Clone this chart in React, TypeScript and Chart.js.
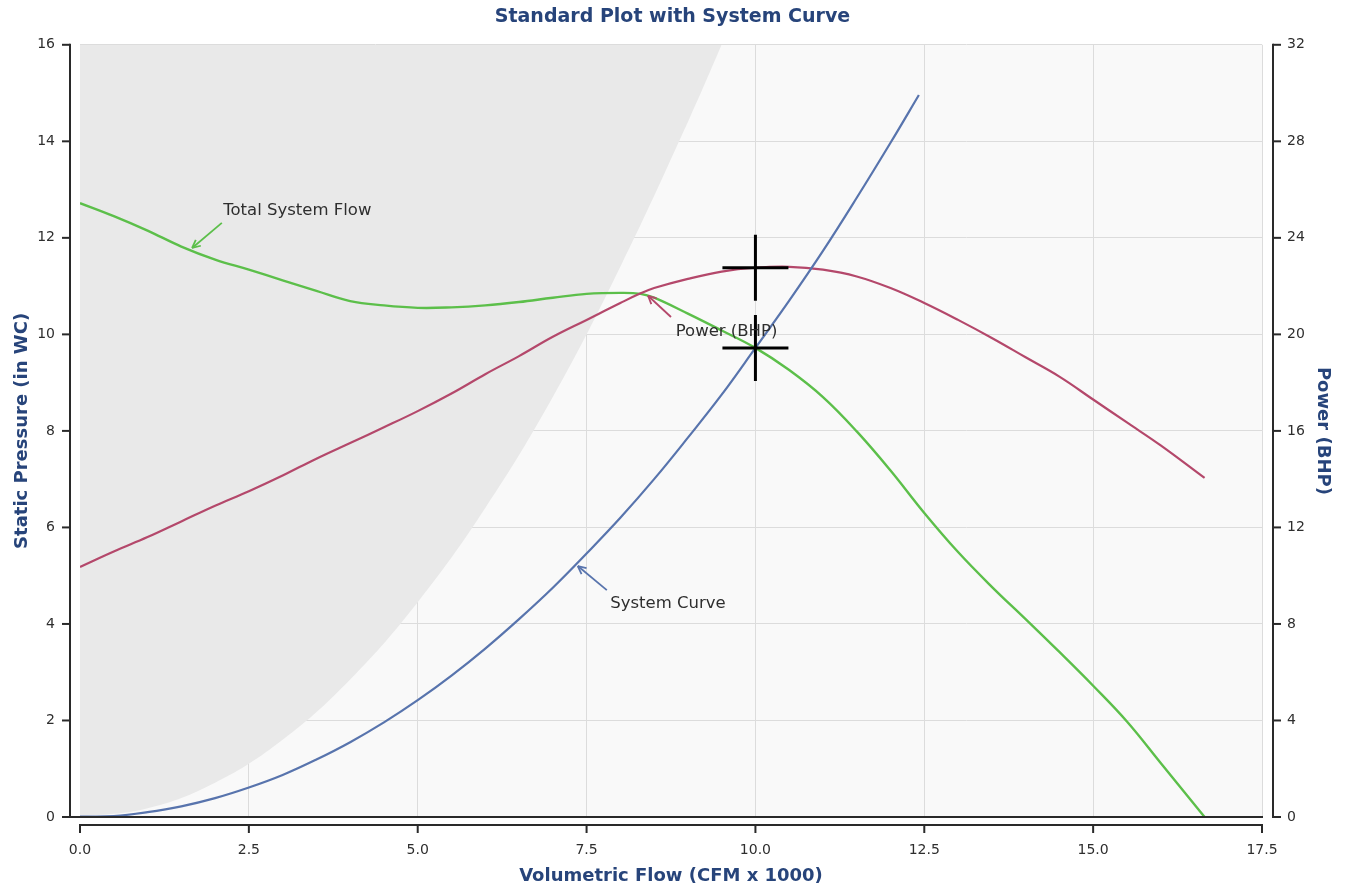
import React, { useEffect, useRef } from "react";
import { Chart, registerables } from "chart.js";

Chart.register(...registerables);

// ---------- data ----------
const flowQ = [0, 0.5, 1, 1.5, 2, 2.5, 3, 3.5, 4, 4.5, 5, 5.5, 6, 6.5, 7, 7.5, 8, 8.3, 8.5, 9, 9.5, 10, 10.5, 11, 11.5, 12, 12.5, 13, 13.5, 14, 14.5, 15, 15.5, 16, 16.65];
const totalSystemFlow = [12.72, 12.45, 12.15, 11.82, 11.55, 11.34, 11.12, 10.9, 10.69, 10.6, 10.55, 10.56, 10.6, 10.67, 10.76, 10.84, 10.86, 10.84, 10.76, 10.43, 10.08, 9.72, 9.26, 8.7, 7.99, 7.18, 6.3, 5.49, 4.77, 4.1, 3.42, 2.72, 1.98, 1.12, 0];
const powerBHP = [10.36, 11.0, 11.6, 12.25, 12.9, 13.5, 14.15, 14.85, 15.5, 16.15, 16.82, 17.55, 18.35, 19.1, 19.9, 20.6, 21.3, 21.7, 21.92, 22.3, 22.6, 22.76, 22.8, 22.68, 22.4, 21.92, 21.3, 20.6, 19.85, 19.05, 18.25, 17.3, 16.35, 15.4, 14.05];

const systemQ = [0, 0.5, 1, 1.5, 2, 2.5, 3, 3.5, 4, 4.5, 5, 5.5, 6, 6.5, 7, 7.5, 8, 8.5, 9, 9.5, 10, 10.5, 11, 11.5, 12, 12.42];
const systemCurve = [0.01, 0.02, 0.1, 0.22, 0.39, 0.61, 0.87, 1.19, 1.55, 1.96, 2.42, 2.93, 3.49, 4.1, 4.75, 5.46, 6.2, 7.0, 7.86, 8.75, 9.72, 10.7, 11.73, 12.83, 13.97, 14.96];

const surgeQ = [0, 1, 2, 3, 4, 5, 6, 7, 8, 9, 9.5];
const surgeP = [0, 0.18, 0.71, 1.6, 2.85, 4.45, 6.4, 8.7, 11.4, 14.4, 16];

const operatingQ = [10, 10];
const operatingP = [11.38, 9.72];

const xRange = [0, 17.5];
const yRange = [0, 16];
const y1Range = [0, 32];
const xStep = 2.5;
const yStep = 2;
const y1Step = 4;

const titleText = "Standard Plot with System Curve";
const xTitle = "Volumetric Flow (CFM x 1000)";
const yTitle = "Static Pressure (in WC)";
const y1Title = "Power (BHP)";

// ---------- styles ----------
const GREEN = "#5cbf4a";
const RED = "#b4486b";
const BLUE = "#5874ad";
const TITLE_BLUE = "#27447a";
const AXIS = "#2a2a2a";
const TEXT = "#2e2e2e";
const GRID = "#dcdcdc";
const PLOT_BG = "#f9f9f9";
const SURGE_BG = "#e9e9e9";
const FONT = "DejaVu Sans";

// annotation labels with arrows, in data units of the left axis
const annotations = [
  { text: "Total System Flow", tx: 2.12, ty: 12.56, ax0: 2.1, ay0: 12.31, ax1: 1.66, ay1: 11.79, color: GREEN },
  { text: "Power (BHP)", tx: 8.82, ty: 10.05, ax0: 8.75, ay0: 10.36, ax1: 8.41, ay1: 10.8, color: RED },
  { text: "System Curve", tx: 7.85, ty: 4.41, ax0: 7.8, ay0: 4.7, ax1: 7.37, ay1: 5.2, color: BLUE },
];

const zip = (xs: number[], ys: number[]) => xs.map((x, i) => ({ x, y: ys[i] }));

const decorPlugin = {
  id: "decor",
  beforeDraw(chart: any) {
    const { ctx, chartArea: a } = chart;
    ctx.save();
    ctx.fillStyle = PLOT_BG;
    ctx.fillRect(a.left, a.top, a.right - a.left, a.bottom - a.top);
    ctx.restore();
  },
  afterDatasetsDraw(chart: any) {
    const { ctx, chartArea: a, scales } = chart;
    const sx = scales.x;
    const sy = scales.y;
    const sy1 = scales.y1;
    const line = (x0: number, y0: number, x1: number, y1: number) => {
      ctx.beginPath();
      ctx.moveTo(x0, y0);
      ctx.lineTo(x1, y1);
      ctx.stroke();
    };
    ctx.save();
    ctx.strokeStyle = AXIS;
    ctx.lineWidth = 2;
    ctx.lineCap = "butt";
    // left axis
    const lx = a.left - 10;
    line(lx, a.top - 1, lx, a.bottom + 1);
    sy.ticks.forEach((t: any) => {
      const py = sy.getPixelForValue(t.value);
      line(lx - 8, py, lx, py);
    });
    // right axis
    const rx = a.right + 11;
    line(rx, a.top - 1, rx, a.bottom + 1);
    sy1.ticks.forEach((t: any) => {
      const py = sy1.getPixelForValue(t.value);
      line(rx, py, rx + 8, py);
    });
    // bottom border of plot
    line(lx, a.bottom, a.right + 1, a.bottom);
    // x axis
    const by = a.bottom + 8;
    line(a.left - 1, by, a.right + 1, by);
    sx.ticks.forEach((t: any) => {
      const px = sx.getPixelForValue(t.value);
      line(px, by, px, by + 8);
    });

    // annotations
    ctx.font = `16.5px "${FONT}"`;
    ctx.textBaseline = "middle";
    ctx.textAlign = "left";
    annotations.forEach((an) => {
      const x0 = sx.getPixelForValue(an.ax0);
      const y0 = sy.getPixelForValue(an.ay0);
      const x1 = sx.getPixelForValue(an.ax1);
      const y1 = sy.getPixelForValue(an.ay1);
      ctx.strokeStyle = an.color;
      ctx.lineWidth = 1.8;
      line(x0, y0, x1, y1);
      const ang = Math.atan2(y1 - y0, x1 - x0);
      const hl = 9;
      const spread = 0.45;
      line(x1, y1, x1 - hl * Math.cos(ang - spread), y1 - hl * Math.sin(ang - spread));
      line(x1, y1, x1 - hl * Math.cos(ang + spread), y1 - hl * Math.sin(ang + spread));
      ctx.fillStyle = TEXT;
      ctx.fillText(an.text, sx.getPixelForValue(an.tx), sy.getPixelForValue(an.ty));
    });
    ctx.restore();
  },
};

export default function App() {
  const canvasRef = useRef<HTMLCanvasElement | null>(null);

  useEffect(() => {
    if (!canvasRef.current) return;
    Chart.defaults.font.family = FONT;
    const tickFont = { family: FONT, size: 14 };
    const axisTitleFont = { family: FONT, size: 18, weight: "bold" as const };

    const chart = new Chart(canvasRef.current, {
      type: "line",
      data: {
        datasets: [
          {
            label: "Operating point",
            data: zip(operatingQ, operatingP),
            yAxisID: "y",
            showLine: false,
            pointStyle: "cross",
            pointRadius: 33,
            pointBorderWidth: 3,
            pointBorderColor: "#000000",
            borderColor: "#000000",
          } as any,
          {
            label: "System Curve",
            data: zip(systemQ, systemCurve),
            yAxisID: "y",
            borderColor: BLUE,
            borderWidth: 2.2,
            pointRadius: 0,
            tension: 0.4,
            fill: false,
          },
          {
            label: "Power (BHP)",
            data: zip(flowQ, powerBHP),
            yAxisID: "y1",
            borderColor: RED,
            borderWidth: 2.2,
            pointRadius: 0,
            tension: 0.4,
            fill: false,
          },
          {
            label: "Total System Flow",
            data: zip(flowQ, totalSystemFlow),
            yAxisID: "y",
            borderColor: GREEN,
            borderWidth: 2.4,
            pointRadius: 0,
            tension: 0.4,
            fill: false,
          },
          {
            label: "Surge region",
            data: zip(surgeQ, surgeP),
            yAxisID: "y",
            borderColor: SURGE_BG,
            borderWidth: 0,
            backgroundColor: SURGE_BG,
            pointRadius: 0,
            tension: 0.4,
            fill: "end",
          },
        ],
      },
      options: {
        animation: false,
        responsive: true,
        maintainAspectRatio: false,
        layout: { padding: 0 },
        plugins: {
          legend: { display: false },
          tooltip: { enabled: false },
          title: {
            display: true,
            text: titleText,
            color: TITLE_BLUE,
            font: { family: FONT, size: 19, weight: "bold" },
            padding: { top: 6, bottom: 16 },
          },
        },
        scales: {
          x: {
            type: "linear",
            min: xRange[0],
            max: xRange[1],
            ticks: {
              stepSize: xStep,
              autoSkip: false,
              maxRotation: 0,
              padding: 25,
              color: TEXT,
              font: tickFont,
              callback: (v: any) => Number(v).toFixed(1),
            },
            grid: { color: GRID, drawTicks: false, lineWidth: 1 },
            border: { display: false },
            title: {
              display: true,
              text: xTitle,
              color: TITLE_BLUE,
              font: axisTitleFont,
              padding: { top: 0, bottom: 3 },
            },
            afterFit: (s: any) => {
              s.height = 73;
            },
          },
          y: {
            type: "linear",
            position: "left",
            min: yRange[0],
            max: yRange[1],
            ticks: { stepSize: yStep, padding: 25, color: TEXT, font: tickFont },
            grid: { color: GRID, drawTicks: false, lineWidth: 1 },
            border: { display: false },
            title: {
              display: true,
              text: yTitle,
              color: TITLE_BLUE,
              font: axisTitleFont,
              padding: { top: 12, bottom: 0 },
            },
            afterFit: (s: any) => {
              s.width = 80;
            },
          },
          y1: {
            type: "linear",
            position: "right",
            min: y1Range[0],
            max: y1Range[1],
            ticks: { stepSize: y1Step, padding: 25, color: TEXT, font: tickFont },
            grid: { display: false, drawTicks: false },
            border: { display: false },
            title: {
              display: true,
              text: y1Title,
              color: TITLE_BLUE,
              font: axisTitleFont,
              padding: { top: 12, bottom: 0 },
            },
            afterFit: (s: any) => {
              s.width = 83;
            },
          },
        },
      },
      plugins: [decorPlugin],
    });

    return () => {
      chart.destroy();
    };
  }, []);

  return (
    <div style={{ position: "absolute", left: 0, top: 0, width: 1345, height: 890, background: "#ffffff" }}>
      <canvas ref={canvasRef} />
    </div>
  );
}
